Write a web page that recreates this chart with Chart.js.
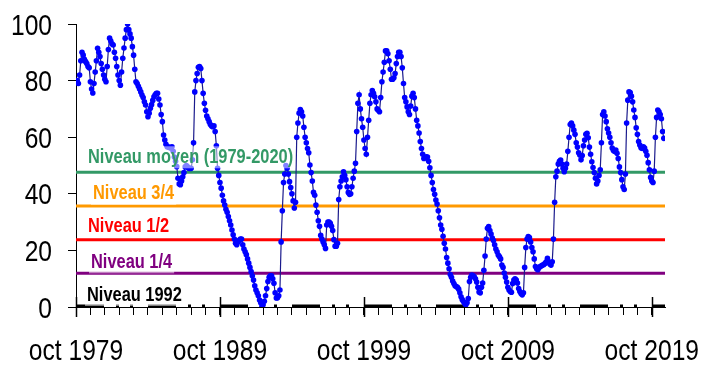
<!DOCTYPE html>
<html>
<head>
<meta charset="utf-8">
<script src="https://cdn.jsdelivr.net/npm/chart.js@4/dist/chart.umd.min.js"></script>
<style>
  html, body { margin: 0; padding: 0; background: #ffffff; }
  #wrap { width: 703px; height: 365px; }
</style>
</head>
<body>
<div id="wrap"><canvas id="c" width="703" height="365"></canvas></div>
<script>
// Monthly filling level (%), one value per month starting October 1979
const monthlyLevel = [
  80, 80, 79, 82, 87, 90, 89, 87.5, 86.7, 86, 85, 84.5,
  79.6, 77, 75.6, 79, 83, 87, 91.4, 90, 88.5, 86, 84, 82,
  80.5, 79.6, 85, 91, 95, 94, 93, 92.6, 90, 87.9, 85, 82,
  80, 78.4, 83, 87.9, 91.5, 95, 98, 100, 98, 96.5, 95, 92,
  89, 84, 79.6, 79, 78, 77, 76, 74.9, 74, 72.5, 71.4, 69,
  67.2, 68.5, 70.2, 71.5, 73, 74.3, 75, 75.5, 75.5, 73.5, 71.4, 68,
  65.5, 60.8, 59, 57.5, 56.6, 56.5, 56.4, 56.2, 56.6, 55, 53, 51.5,
  49.6, 45.5, 43.5, 43.2, 44.5, 46, 47.5, 49.5, 50, 49.5, 49, 49,
  49, 52, 58, 76, 80, 82.5, 84.7, 85, 84.3, 80, 75.5, 72,
  69.5, 67.5, 66.5, 65.5, 64.5, 64, 63.7, 64, 62, 57, 49, 46.5,
  44, 42, 39.5, 37.5, 36, 34.5, 33.5, 32, 30.5, 29, 27.2, 25.5,
  24, 22.5, 22, 23, 23.5, 24, 24, 22, 20.5, 19.5, 18.5, 17,
  15.5, 14, 12.5, 11, 9.5, 7.5, 6, 5, 4, 2.5, 1.5, 0.2,
  0.8, 2, 4, 6.5, 9, 10.5, 11, 11, 10, 8.4, 5, 3.2,
  3.3, 4, 6, 23, 34, 44, 47, 50, 49, 47, 44.3, 42.2,
  40, 37.5, 35, 37, 60, 65, 68.5, 69.8, 69, 67.5, 63.5, 60,
  58, 56, 54.5, 50.2, 47.5, 44.5, 40.5, 39.5, 36, 33.5, 30.5, 28.5,
  25.3, 24, 23, 22, 20.7, 29, 30, 30, 29.6, 28.5, 27, 23.8,
  21.5, 21.5, 22.5, 38, 42.5, 44.5, 46, 47.8, 46.5, 45, 42.5, 40.5,
  39.8, 40, 42.5, 45.5, 48, 50.8, 62, 72, 75, 70, 66.5, 63.5,
  59, 56, 54, 60, 66, 72, 75, 76.5, 75.5, 74.3, 72.5, 70,
  69.5, 69, 74, 79.6, 83, 86.5, 90.5, 90.5, 89.5, 87, 84, 80.5,
  80.5, 81, 82.5, 86, 88.5, 90, 90, 88.5, 84.5, 79, 74, 72.5,
  70.7, 69, 68, 71, 74.5, 75.5, 74, 70, 66, 64, 61.5, 58.5,
  56, 54, 52.5, 52.8, 53.1, 53, 51.5, 49.2, 46.5, 44, 41.5, 39.8,
  37.8, 36.4, 34, 31.5, 29, 27.5, 25, 22.5, 20.5, 17.5, 15.5, 13.5,
  11.5, 10.5, 9.2, 8.3, 7.5, 7.2, 7, 6.3, 5, 3.6, 2.6, 1.9,
  1.2, 0.8, 1.5, 3, 9, 10.5, 11.3, 11, 10.7, 10, 8.8, 7,
  5.3, 5, 7, 8.5, 13, 18, 24, 27.8, 28.4, 27, 25.8, 24.4,
  23.5, 22, 20.5, 19.5, 18.4, 17.8, 17, 14.8, 14, 12, 10.5, 8.8,
  7, 6, 5.5, 5.2, 8.3, 9.5, 10, 9.5, 8.5, 6.5, 5.5, 4.8,
  4.3, 5, 14, 21, 24, 24.9, 24.5, 23, 21, 19.5, 17, 14.3,
  13.5, 13.2, 14, 14.3, 14.6, 14.8, 15, 15.4, 16, 17.2, 16, 15.2,
  14.8, 16, 24, 37, 46, 48, 50.5, 51.5, 51.9, 50.5, 49, 47.8,
  49, 50.5, 55, 60, 64.5, 65, 64, 62.5, 61, 58, 56.5, 54.5,
  53.7, 52, 53.5, 57, 59, 61, 61.4, 59.8, 56.5, 54, 51.3, 49.3,
  47.5, 45.5, 43.5, 44.5, 46.5, 48.5, 58, 68, 69, 67.5, 65.5, 63,
  61.5, 60, 58, 56.2, 55.3, 55, 55.5, 54.3, 52.5, 49.5, 47.5, 45,
  42.5, 41.5, 47, 65, 73.1, 76, 75.8, 74.5, 72.5, 69.6, 67, 63.3,
  61, 58.5, 57.2, 56.3, 56, 56.6, 56.2, 55, 53.6, 51, 48.5, 45.8,
  44.5, 44, 48, 60, 67, 69.6, 69, 68, 66.5, 62, 59.6
];

// Reference levels and their names
const levelNames = ['Niveau moyen (1979-2020)', 'Niveau 3/4', 'Niveau 1/2', 'Niveau 1/4', 'Niveau 1992'];
const levelValues = [47.6, 35.7, 23.8, 11.9, 0];

// Axis labels (every ten years, October)
const xTickLabels = ['oct 1979', 'oct 1989', 'oct 1999', 'oct 2009', 'oct 2019'];
const yTickValues = [0, 20, 40, 60, 80, 100];

// ---- presentation ----
const MONTHS_PER_LABEL = 120;
const X_MAX = 491;
const baseFont = "'Liberation Sans', Arial, sans-serif";
const NARROW = 0.82;   // horizontal squeeze giving a narrow face

const levelStyle = [
  { color: '#339966', width: 3, dash: [], dx: 12, dy: 15 },
  { color: '#ff9900', width: 3, dash: [], dx: 17, dy: 12 },
  { color: '#ff0000', width: 3, dash: [], dx: 12, dy: 13 },
  { color: '#800080', width: 3, dash: [], dx: 15, dy: 11 },
  { color: '#000000', width: 5, dash: [28, 12, 3, 11, 3, 15], dx: 11, dy: 12 }
];

const levelDatasets = levelValues.map((v, i) => ({
  label: levelNames[i],
  data: [{ x: 0, y: v }, { x: X_MAX, y: v }],
  borderColor: levelStyle[i].color,
  borderWidth: levelStyle[i].width,
  borderDash: levelStyle[i].dash,
  borderCapStyle: 'butt',
  pointRadius: 0,
  fill: false,
  order: 2 + i
}));

// Writes text squeezed horizontally around its anchor
function narrowText(ctx, text, x, y, align) {
  ctx.save();
  ctx.translate(x, y);
  ctx.scale(NARROW, 1);
  ctx.textAlign = align;
  ctx.fillText(text, 0, 0);
  ctx.restore();
}

// Level names, written just above each reference line
const levelTextPlugin = {
  id: 'levelText',
  afterDatasetsDraw(chart) {
    const { ctx, chartArea, scales } = chart;
    ctx.save();
    ctx.font = "bold 20px " + baseFont;
    ctx.textBaseline = 'middle';
    levelNames.forEach((name, i) => {
      const st = levelStyle[i];
      const x = chartArea.left + st.dx;
      const y = scales.y.getPixelForValue(levelValues[i]) - st.dy;
      const w = ctx.measureText(name).width * NARROW;
      ctx.fillStyle = 'rgba(255,255,255,0.5)';
      ctx.fillRect(x - 2, y - 11, w + 4, 22);
      ctx.fillStyle = st.color;
      narrowText(ctx, name, x, y, 'left');
    });
    ctx.restore();
  }
};

// Axis tick labels and the longer decade tick marks
const axisPlugin = {
  id: 'axisText',
  afterDraw(chart) {
    const { ctx, chartArea, scales } = chart;
    ctx.save();
    ctx.fillStyle = '#000';
    ctx.font = "30px " + baseFont;
    ctx.textBaseline = 'alphabetic';
    yTickValues.forEach(v => {
      narrowText(ctx, String(v), chartArea.left - 24, scales.y.getPixelForValue(v) + 10.5, 'right');
    });
    xTickLabels.forEach((t, i) => {
      narrowText(ctx, t, scales.x.getPixelForValue(i * MONTHS_PER_LABEL), chartArea.bottom + 53, 'center');
    });
    ctx.strokeStyle = '#000';
    ctx.lineWidth = 1.5;
    xTickLabels.forEach((_, i) => {
      const px = Math.round(scales.x.getPixelForValue(i * MONTHS_PER_LABEL)) + 0.5;
      ctx.beginPath();
      ctx.moveTo(px, chartArea.bottom - 10);
      ctx.lineTo(px, chartArea.bottom + 10);
      ctx.stroke();
    });
    ctx.restore();
  }
};

new Chart(document.getElementById('c'), {
  type: 'line',
  data: {
    datasets: [
      {
        label: 'Niveau',
        data: monthlyLevel.map((v, i) => ({ x: i, y: v })),
        borderColor: '#1a1a8c',
        borderWidth: 1.2,
        pointRadius: 2.8,
        pointBackgroundColor: '#0000ff',
        pointBorderWidth: 0,
        tension: 0,
        fill: false,
        order: 0
      },
      ...levelDatasets
    ]
  },
  options: {
    responsive: false,
    animation: false,
    devicePixelRatio: 1,
    layout: { padding: { top: 24, right: 38, left: 0, bottom: 0 } },
    plugins: { legend: { display: false }, tooltip: { enabled: false } },
    scales: {
      x: {
        type: 'linear',
        min: 0,
        max: X_MAX,
        border: { display: true, color: '#000', width: 1 },
        grid: { display: true, drawOnChartArea: false, drawTicks: true, tickLength: 8, color: '#000', lineWidth: 1 },
        afterFit(scale) { scale.height = 58; },
        ticks: { display: false, stepSize: 12, includeBounds: false, autoSkip: false, maxRotation: 0 }
      },
      y: {
        min: yTickValues[0],
        max: yTickValues[yTickValues.length - 1],
        border: { display: true, color: '#000', width: 1 },
        grid: { display: true, drawOnChartArea: false, drawTicks: true, tickLength: 8, color: '#000' },
        afterFit(scale) { scale.width = 76; },
        ticks: { display: false, stepSize: 20 }
      }
    }
  },
  plugins: [levelTextPlugin, axisPlugin]
});
</script>
</body>
</html>
